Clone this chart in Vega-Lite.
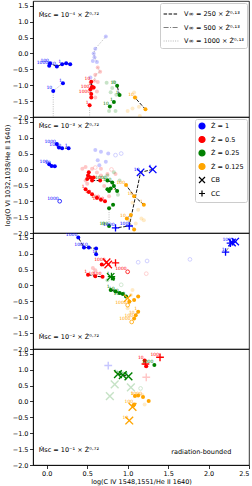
{
"$schema":"https://vega.github.io/schema/vega-lite/v6.json",
"padding":{"left":3,"right":3,"top":0,"bottom":0},
"background":"white",
"datasets":{
"pts":[
{"p":1,"z":"1","g":"1a","v":250,"d":1000,"n":"1000","x":0.03,"y":-0.39},
{"p":1,"z":"1","g":"1a","v":250,"d":100,"n":"100","x":0.04,"y":-0.31},
{"p":1,"z":"1","g":"1a","v":250,"d":10,"n":"10","x":0.125,"y":-0.41},
{"p":1,"z":"1","g":"1a","v":250,"d":1,"n":"1","x":0.19,"y":-0.34},
{"p":1,"z":"1","g":"1a","v":250,"d":0.5,"x":0.24,"y":-0.31},
{"p":1,"z":"1","g":"1a","v":250,"d":0.2,"x":0.29,"y":-0.34},
{"p":1,"z":"1","g":"1b","v":1000,"d":1,"n":"1","x":0.2,"y":-0.94},
{"p":1,"z":"1","g":"1b","v":1000,"d":10,"n":"10","x":0.08,"y":-1.18},
{"p":1,"z":"1","g":"1b","v":1000,"d":100,"m":"-","x":0.08,"y":-2.6},
{"p":1,"z":"1","g":"1c","v":1000,"d":1,"f":1,"x":0.73,"y":0.53},
{"p":1,"z":"1","g":"1c","v":1000,"d":2,"f":1,"x":0.6,"y":0.15},
{"p":1,"z":"1","g":"1c","v":1000,"d":3,"f":1,"x":0.58,"y":0.0},
{"p":1,"z":"1","g":"1c","v":1000,"d":4,"f":1,"x":0.59,"y":-0.12},
{"p":1,"z":"1","g":"1c","v":1000,"d":5,"f":1,"x":0.62,"y":-0.27},
{"p":1,"z":"1","f":1,"x":0.57,"y":-0.24},
{"p":1,"z":"1","f":1,"x":0.54,"y":-0.76},
{"p":1,"z":"0.5","g":"1d","v":250,"d":1,"n":"1","x":0.56,"y":-1.05},
{"p":1,"z":"0.5","g":"1d","v":250,"d":10,"n":"10","x":0.55,"y":-0.89},
{"p":1,"z":"0.5","g":"1d","v":250,"d":100,"n":"100","x":0.54,"y":-1.13},
{"p":1,"z":"0.5","g":"1d","v":250,"d":1000,"n":"1000","x":0.55,"y":-1.28},
{"p":1,"z":"0.5","x":0.58,"y":-1.07},
{"p":1,"z":"0.5","x":0.55,"y":-1.39},
{"p":1,"z":"0.5","g":"1e","v":1000,"d":1,"n":"1","x":0.53,"y":-1.63},
{"p":1,"z":"0.5","g":"1e","v":1000,"d":10,"m":"-","x":0.53,"y":-2.6},
{"p":1,"z":"0.5","g":"1f","v":1000,"d":1,"f":1,"x":0.63,"y":-0.44},
{"p":1,"z":"0.5","g":"1f","v":1000,"d":2,"f":1,"x":0.66,"y":-0.58},
{"p":1,"z":"0.5","g":"1f","v":1000,"d":3,"f":1,"x":0.6,"y":-0.67},
{"p":1,"z":"0.5","g":"1f","v":1000,"d":4,"f":1,"x":0.59,"y":-0.86},
{"p":1,"z":"0.5","f":1,"x":0.63,"y":-0.9},
{"p":1,"z":"0.5","f":1,"x":0.57,"y":-1.1},
{"p":1,"z":"0.5","f":1,"x":0.6,"y":-1.39},
{"p":1,"z":"0.5","f":1,"x":0.62,"y":-1.2},
{"p":1,"z":"0.25","f":1,"x":0.74,"y":-0.92},
{"p":1,"z":"0.25","f":1,"x":0.83,"y":-0.9},
{"p":1,"z":"0.25","f":1,"x":0.81,"y":-1.09},
{"p":1,"z":"0.25","f":1,"x":0.79,"y":-1.22},
{"p":1,"z":"0.25","f":1,"x":0.86,"y":-1.3},
{"p":1,"z":"0.25","f":1,"x":0.77,"y":-1.81},
{"p":1,"z":"0.25","f":1,"x":0.85,"y":-1.81},
{"p":1,"z":"0.25","g":"1g","v":250,"d":10,"n":"10","x":0.87,"y":-1.02},
{"p":1,"z":"0.25","g":"1g","v":250,"d":1,"n":"1","x":0.9,"y":-1.31},
{"p":1,"z":"0.25","g":"1h","v":1000,"d":1,"n":"1","x":0.83,"y":-1.53},
{"p":1,"z":"0.25","g":"1h","v":1000,"d":10,"n":"10","x":0.78,"y":-1.67},
{"p":1,"z":"0.125","f":1,"x":1.08,"y":-1.23},
{"p":1,"z":"0.125","f":1,"x":1.1,"y":-1.39},
{"p":1,"z":"0.125","f":1,"x":1.14,"y":-1.68},
{"p":1,"z":"0.125","f":1,"x":1.0,"y":-1.81},
{"p":1,"z":"0.125","f":1,"x":1.06,"y":-1.73},
{"p":1,"z":"0.125","f":1,"x":1.15,"y":-1.97},
{"p":1,"z":"0.125","g":"1i","v":250,"d":10,"n":"10","x":1.09,"y":-1.39},
{"p":1,"z":"0.125","g":"1i","v":250,"d":1,"x":1.22,"y":-1.76},

{"p":2,"z":"1","g":"2a","v":250,"d":1000,"n":"1000","x":0.125,"y":0.8},
{"p":2,"z":"1","g":"2a","v":250,"d":100,"n":"100","x":0.15,"y":0.69},
{"p":2,"z":"1","g":"2a","v":250,"d":10,"n":"10","x":0.19,"y":0.67},
{"p":2,"z":"1","g":"2a","v":250,"d":1,"n":"1","x":0.27,"y":0.67},
{"p":2,"z":"1","g":"2b","v":250,"d":100,"n":"100","x":0.03,"y":0.16},
{"p":2,"z":"1","g":"2b","v":250,"d":10,"n":"10","x":0.06,"y":0.11},
{"p":2,"z":"1","g":"2b","v":250,"d":1,"x":0.1,"y":0.1},
{"p":2,"z":"1","t":1,"n":"1000","x":0.16,"y":-1.0},
{"p":2,"z":"1","f":1,"x":0.6,"y":0.61},
{"p":2,"z":"1","f":1,"x":0.67,"y":0.56},
{"p":2,"z":"1","f":1,"x":0.76,"y":0.5},
{"p":2,"z":"1","f":1,"x":0.65,"y":0.13},
{"p":2,"z":"1","f":1,"x":0.73,"y":0.24},
{"p":2,"z":"1","f":1,"x":0.63,"y":0.29},
{"p":2,"z":"1","f":1,"t":1,"x":0.85,"y":0.45},
{"p":2,"z":"1","f":1,"t":1,"x":0.92,"y":0.5},
{"p":2,"z":"1","g":"2c","v":250,"d":1,"n":"1","m":"CB","x":1.31,"y":0.0},
{"p":2,"z":"1","g":"2c","v":250,"d":10,"n":"10","m":"CB","x":1.16,"y":-0.09},
{"p":2,"z":"1","g":"2c","v":250,"d":100,"n":"100","m":"CC","x":1.02,"y":-1.78},
{"p":2,"z":"1","g":"2c","v":250,"d":1000,"n":"1000","m":"CC","x":0.85,"y":-1.84},
{"p":2,"z":"0.5","g":"2d","v":250,"d":1,"x":0.66,"y":-0.35},
{"p":2,"z":"0.5","g":"2d","v":250,"d":10,"x":0.56,"y":-0.35},
{"p":2,"z":"0.5","g":"2d","v":250,"d":100,"x":0.54,"y":-0.25},
{"p":2,"z":"0.5","g":"2d","v":250,"d":1000,"x":0.52,"y":-0.09},
{"p":2,"z":"0.5","x":0.51,"y":-0.19},
{"p":2,"z":"0.5","x":0.58,"y":-0.25},
{"p":2,"z":"0.5","x":0.5,"y":-0.3},
{"p":2,"z":"0.5","g":"2e","v":1000,"d":1,"n":"1","x":0.48,"y":-0.62},
{"p":2,"z":"0.5","g":"2e","v":1000,"d":3,"x":0.52,"y":-0.71},
{"p":2,"z":"0.5","g":"2e","v":1000,"d":10,"n":"10","x":0.56,"y":-0.78},
{"p":2,"z":"0.5","g":"2e","v":1000,"d":30,"x":0.62,"y":-0.89},
{"p":2,"z":"0.5","g":"2e","v":1000,"d":100,"n":"100","x":0.67,"y":-0.95},
{"p":2,"z":"0.5","g":"2e","v":1000,"d":1000,"n":"1000","x":0.72,"y":-1.0},
{"p":2,"z":"0.5","f":1,"x":0.44,"y":0.02},
{"p":2,"z":"0.5","f":1,"x":0.48,"y":0.08},
{"p":2,"z":"0.5","f":1,"x":0.56,"y":0.02},
{"p":2,"z":"0.5","f":1,"x":0.67,"y":0.02},
{"p":2,"z":"0.5","f":1,"x":0.75,"y":-0.14},
{"p":2,"z":"0.5","f":1,"x":0.85,"y":-0.14},
{"p":2,"z":"0.5","f":1,"x":0.48,"y":-0.35},
{"p":2,"z":"0.5","f":1,"x":0.67,"y":-0.19},
{"p":2,"z":"0.5","f":1,"x":0.71,"y":-0.52},
{"p":2,"z":"0.5","f":1,"x":0.77,"y":-0.84},
{"p":2,"z":"0.5","f":1,"x":0.5,"y":-0.45},
{"p":2,"z":"0.5","f":1,"x":0.62,"y":-0.1},
{"p":2,"z":"0.5","f":1,"t":1,"x":0.6,"y":0.06},
{"p":2,"z":"0.5","f":1,"t":1,"x":0.8,"y":0.0},
{"p":2,"z":"0.25","g":"2f","v":250,"d":1000,"n":"1000","x":0.75,"y":-0.35},
{"p":2,"z":"0.25","g":"2f","v":250,"d":100,"n":"100","x":0.81,"y":-0.41},
{"p":2,"z":"0.25","g":"2f","v":250,"d":10,"x":0.83,"y":-0.52},
{"p":2,"z":"0.25","g":"2f","v":250,"d":1,"n":"1","x":0.87,"y":-0.68},
{"p":2,"z":"0.25","x":0.75,"y":-0.62},
{"p":2,"z":"0.25","x":0.77,"y":-0.68},
{"p":2,"z":"0.25","x":0.79,"y":-0.6},
{"p":2,"z":"0.25","g":"2g","v":1000,"d":1,"x":0.82,"y":-1.11},
{"p":2,"z":"0.25","g":"2g","v":1000,"d":10,"x":0.77,"y":-1.22},
{"p":2,"z":"0.25","g":"2g","v":1000,"d":100,"n":"100","x":0.77,"y":-1.78},
{"p":2,"z":"0.25","f":1,"x":0.75,"y":-0.19},
{"p":2,"z":"0.25","f":1,"x":0.9,"y":-0.35},
{"p":2,"z":"0.25","f":1,"x":0.83,"y":-0.09},
{"p":2,"z":"0.25","f":1,"x":0.88,"y":-0.8},
{"p":2,"z":"0.25","f":1,"x":0.7,"y":-1.7},
{"p":2,"z":"0.125","g":"2h","v":250,"d":100,"n":"100","x":0.98,"y":-0.49},
{"p":2,"z":"0.125","g":"2h","v":250,"d":10,"n":"10","x":1.08,"y":-0.84},
{"p":2,"z":"0.125","g":"2h","v":250,"d":1,"n":"1","x":1.2,"y":-1.11},
{"p":2,"z":"0.125","g":"2i","v":500,"d":1,"x":1.04,"y":-1.43},
{"p":2,"z":"0.125","g":"2i","v":500,"d":10,"n":"10","x":0.99,"y":-1.54},
{"p":2,"z":"0.125","g":"2i","v":500,"d":100,"x":1.08,"y":-1.89},
{"p":2,"z":"0.125","f":1,"x":1.17,"y":-1.54},
{"p":2,"z":"0.125","f":1,"x":1.02,"y":-1.59},
{"p":2,"z":"0.125","f":1,"x":1.13,"y":-1.27},
{"p":2,"z":"0.125","f":1,"x":1.06,"y":-1.05},
{"p":2,"z":"0.125","f":1,"x":1.2,"y":-1.6},
{"p":2,"z":"0.125","f":1,"x":1.1,"y":-1.7},

{"p":3,"z":"1","g":"3a","v":250,"d":1000,"n":"1000","x":0.39,"y":1.51},
{"p":3,"z":"1","g":"3a","v":250,"d":100,"n":"100","x":0.46,"y":1.19},
{"p":3,"z":"1","g":"3a","v":250,"d":10,"n":"10","x":0.52,"y":1.19},
{"p":3,"z":"1","g":"3a","v":250,"d":3,"x":0.61,"y":1.16},
{"p":3,"z":"1","g":"3a","v":250,"d":1,"n":"1","x":0.61,"y":0.98},
{"p":3,"z":"1","g":"3b","v":500,"d":1,"n":"1","m":"CC","x":2.21,"y":1.05},
{"p":3,"z":"1","g":"3b","v":500,"d":100,"n":"100","m":"CB","x":2.29,"y":1.35},
{"p":3,"z":"1","m":"CC","x":2.3,"y":1.37},
{"p":3,"z":"1","m":"CB","x":2.33,"y":1.38},
{"p":3,"z":"1","m":"CC","x":2.27,"y":1.33},
{"p":3,"z":"1","f":1,"t":1,"x":1.13,"y":0.73},
{"p":3,"z":"1","f":1,"t":1,"x":1.24,"y":0.77},
{"p":3,"z":"1","f":1,"t":1,"x":1.77,"y":0.82},
{"p":3,"z":"0.5","g":"3c","v":250,"d":1,"n":"1","x":0.51,"y":0.34},
{"p":3,"z":"0.5","g":"3c","v":250,"d":10,"n":"10","x":0.6,"y":0.29},
{"p":3,"z":"0.5","g":"3c","v":250,"d":100,"n":"100","x":0.69,"y":0.27},
{"p":3,"z":"0.5","m":"CB","n":"1000","x":0.74,"y":0.73},
{"p":3,"z":"0.5","x":0.68,"y":0.66},
{"p":3,"z":"0.5","m":"CB","x":0.76,"y":0.66},
{"p":3,"z":"0.5","m":"CC","x":0.85,"y":0.71},
{"p":3,"z":"0.5","t":1,"n":"1000","x":1.0,"y":0.43},
{"p":3,"z":"0.5","f":1,"x":0.6,"y":0.48},
{"p":3,"z":"0.5","f":1,"x":0.57,"y":0.55},
{"p":3,"z":"0.5","f":1,"t":1,"x":1.23,"y":0.37},
{"p":3,"z":"0.25","m":"CB","n":"1","x":0.79,"y":0.27},
{"p":3,"z":"0.25","m":"CC","x":0.8,"y":0.28},
{"p":3,"z":"0.25","x":0.82,"y":0.22},
{"p":3,"z":"0.25","g":"3d","v":250,"d":1,"n":"1","x":0.79,"y":-0.14},
{"p":3,"z":"0.25","g":"3d","v":250,"d":10,"n":"10","x":0.85,"y":-0.19},
{"p":3,"z":"0.25","g":"3d","v":250,"d":100,"n":"100","x":0.9,"y":-0.24},
{"p":3,"z":"0.25","g":"3d","v":250,"d":300,"x":0.94,"y":-0.27},
{"p":3,"z":"0.25","g":"3d","v":250,"d":1000,"n":"1000","x":0.98,"y":-0.35},
{"p":3,"z":"0.25","f":1,"t":1,"x":0.92,"y":0.02},
{"p":3,"z":"0.25","f":1,"x":0.75,"y":0.16},
{"p":3,"z":"0.125","m":"CB","x":1.0,"y":-0.4},
{"p":3,"z":"0.125","x":1.02,"y":-0.51},
{"p":3,"z":"0.125","x":1.13,"y":-0.35},
{"p":3,"z":"0.125","x":1.08,"y":-0.46},
{"p":3,"z":"0.125","t":1,"n":"1000","x":1.0,"y":-0.62},
{"p":3,"z":"0.125","g":"3e","v":500,"d":1,"n":"1","x":1.13,"y":-0.83},
{"p":3,"z":"0.125","g":"3e","v":500,"d":10,"n":"10","x":1.1,"y":-0.94},
{"p":3,"z":"0.125","g":"3e","v":500,"d":100,"n":"100","x":1.08,"y":-1.04},
{"p":3,"z":"0.125","t":1,"n":"1000","x":1.05,"y":-1.15},
{"p":3,"z":"0.125","f":1,"x":1.0,"y":-0.72},
{"p":3,"z":"0.125","f":1,"x":1.06,"y":-0.14},
{"p":3,"z":"0.125","f":1,"x":1.04,"y":-0.3},

{"p":4,"z":"0.5","m":"CC","n":"100","x":1.4,"y":1.39},
{"p":4,"z":"0.5","m":"CC","x":1.22,"y":1.18},
{"p":4,"z":"0.5","n":"10","x":1.21,"y":1.29},
{"p":4,"z":"0.5","n":"1","x":1.23,"y":1.11},
{"p":4,"z":"0.5","f":1,"m":"CC","x":1.23,"y":0.76},
{"p":4,"z":"0.25","g":"4a","v":250,"d":1,"n":"1","m":"CB","x":0.88,"y":0.86},
{"p":4,"z":"0.25","g":"4a","v":250,"d":10,"n":"10","m":"CB","x":0.94,"y":0.83},
{"p":4,"z":"0.25","g":"4a","v":250,"d":100,"n":"100","m":"CB","x":1.01,"y":0.79},
{"p":4,"z":"0.25","n":"1000","x":1.33,"y":1.15},
{"p":4,"z":"0.25","f":1,"m":"CB","x":0.84,"y":0.54},
{"p":4,"z":"0.25","f":1,"m":"CB","x":0.78,"y":0.17},
{"p":4,"z":"0.25","f":1,"m":"CB","x":1.04,"y":0.44},
{"p":4,"z":"0.25","f":1,"t":1,"x":1.16,"y":0.41},
{"p":4,"z":"1","f":1,"m":"CC","x":0.76,"y":1.13},
{"p":4,"z":"0.125","n":"1","x":1.09,"y":0.17},
{"p":4,"z":"0.125","x":1.13,"y":0.19},
{"p":4,"z":"0.125","n":"1000","x":1.19,"y":0.14},
{"p":4,"z":"0.125","x":1.26,"y":0.01},
{"p":4,"z":"0.125","n":"100","x":1.08,"y":-0.1},
{"p":4,"z":"0.125","m":"CB","x":1.06,"y":-0.17},
{"p":4,"z":"0.125","m":"CB","n":"10","x":1.02,"y":-0.6},
{"p":4,"z":"0.125","x":1.07,"y":-0.13},
{"p":4,"z":"0.125","f":1,"x":1.21,"y":-0.1},
{"p":4,"z":"0.125","f":1,"x":1.18,"y":0.2}
],
"notes":[
{"p":1,"x":-0.1,"y":1.2,"s":"Ṁsc = 10⁻⁴ × Ż⁰·⁷²"},
{"p":2,"x":-0.1,"y":1.38,"s":"Ṁsc = 10⁻³ × Ż⁰·⁷²"},
{"p":3,"x":-0.1,"y":-1.62,"s":"Ṁsc = 10⁻² × Ż⁰·⁷²"},
{"p":4,"x":-0.1,"y":-1.53,"s":"Ṁsc = 10⁻¹ × Ż⁰·⁷²"},
{"p":4,"x":1.54,"y":-1.6,"s":"radiation-bounded"}
]
},
"vconcat":[
{
"width":216,"height":116,
"encoding":{
"x":{"field":"x","type":"quantitative","scale":{"domain":[-0.17,2.5],"nice":false,"zero":false},"axis":null},
"y":{"field":"y","type":"quantitative","scale":{"domain":[-2,1.65],"nice":false,"zero":false},"axis":{"values":[-2,-1.5,-1,-0.5,0,0.5,1,1.5],"format":".1f","title":null}}
},
"layer":[
{"data":{"name":"pts"},"transform":[{"filter":"datum.p==1 && datum.g"}],
"mark":{"type":"line","strokeWidth":0.9,"clip":true},
"encoding":{"detail":{"field":"g"},"order":{"field":"d","type":"quantitative"},
"stroke":{"field":"v","type":"nominal","scale":{"domain":[250,500,1000],"range":["#000000","#7f7f7f","#b5b5b5"]},"legend":{"orient":"top-right","title":null,"labelExpr":"'V∞ = '+datum.label+' × Ż⁰·¹³'","symbolSize":220,"symbolStrokeWidth":1.1}},
"strokeDash":{"field":"v","type":"nominal","scale":{"domain":[250,500,1000],"range":[[3.5,1.5],[5,1.5,1,1.5],[1,1.3]]},"legend":{"orient":"top-right","title":null,"labelExpr":"'V∞ = '+datum.label+' × Ż⁰·¹³'","symbolSize":220,"symbolStrokeWidth":1.1}}}},
{"data":{"name":"pts"},"transform":[{"filter":"datum.p==1 && !datum.m && !datum.t"}],
"mark":{"type":"point","filled":true,"size":16,"clip":true},
"encoding":{"color":{"field":"z","type":"nominal","scale":{"domain":["1","0.5","0.25","0.125","CB","CC"],"range":["#0000ff","#ff0000","#008000","#ffa500","#000000","#000000"]},"legend":null},
"opacity":{"condition":{"test":"datum.f==1","value":0.22},"value":1}}},
{"data":{"name":"pts"},"transform":[{"filter":"datum.p==1 && !datum.m && datum.t"}],
"mark":{"type":"point","filled":false,"size":14,"strokeWidth":0.8,"clip":true},
"encoding":{"color":{"field":"z","type":"nominal","scale":{"domain":["1","0.5","0.25","0.125","CB","CC"],"range":["#0000ff","#ff0000","#008000","#ffa500","#000000","#000000"]},"legend":null},
"opacity":{"condition":{"test":"datum.f==1","value":0.22},"value":1}}},
{"data":{"name":"pts"},"transform":[{"filter":"datum.p==1 && (datum.m=='CB' || datum.m=='CC')"}],
"mark":{"type":"point","filled":false,"size":55,"strokeWidth":1.3,"clip":true},
"encoding":{"color":{"field":"z","type":"nominal","scale":{"domain":["1","0.5","0.25","0.125","CB","CC"],"range":["#0000ff","#ff0000","#008000","#ffa500","#000000","#000000"]},"legend":null},
"shape":{"field":"m","type":"nominal","scale":{"domain":["1","0.5","0.25","0.125","CB","CC"],"range":["circle","circle","circle","circle","M-1,-1L1,1M-1,1L1,-1","M-1,0L1,0M0,-1L0,1"]},"legend":null},
"opacity":{"condition":{"test":"datum.f==1","value":0.22},"value":1}}},
{"data":{"name":"pts"},"transform":[{"filter":"datum.p==1 && datum.n"}],
"mark":{"type":"text","fontSize":4.5,"align":"right","baseline":"bottom","dx":-1,"dy":-0.5,"clip":true},
"encoding":{"text":{"field":"n"},"color":{"field":"z","type":"nominal","scale":{"domain":["1","0.5","0.25","0.125","CB","CC"],"range":["#0000ff","#ff0000","#008000","#ffa500","#000000","#000000"]},"legend":null},
"opacity":{"condition":{"test":"datum.f==1","value":0.22},"value":1}}},
{"data":{"name":"notes"},"transform":[{"filter":"datum.p==1"}],
"mark":{"type":"text","fontSize":6.5,"align":"left","baseline":"middle","color":"#000000"},
"encoding":{"text":{"field":"s"}}}
]
},
{
"width":216,"height":116,
"encoding":{
"x":{"field":"x","type":"quantitative","scale":{"domain":[-0.17,2.5],"nice":false,"zero":false},"axis":null},
"y":{"field":"y","type":"quantitative","scale":{"domain":[-2,1.65],"nice":false,"zero":false},"axis":{"values":[-2,-1.5,-1,-0.5,0,0.5,1,1.5],"format":".1f","title":"log(O VI 1032,1038/He II 1640)"}}
},
"layer":[
{"data":{"name":"pts"},"transform":[{"filter":"datum.p==2 && datum.g"}],
"mark":{"type":"line","strokeWidth":0.9,"clip":true},
"encoding":{"detail":{"field":"g"},"order":{"field":"d","type":"quantitative"},
"stroke":{"field":"v","type":"nominal","scale":{"domain":[250,500,1000],"range":["#000000","#7f7f7f","#b5b5b5"]},"legend":null},
"strokeDash":{"field":"v","type":"nominal","scale":{"domain":[250,500,1000],"range":[[3.5,1.5],[5,1.5,1,1.5],[1,1.3]]},"legend":null}}},
{"data":{"name":"pts"},"transform":[{"filter":"datum.p==2 && !datum.m && !datum.t"}],
"mark":{"type":"point","filled":true,"size":16,"clip":true},
"encoding":{"color":{"field":"z","type":"nominal","scale":{"domain":["1","0.5","0.25","0.125","CB","CC"],"range":["#0000ff","#ff0000","#008000","#ffa500","#000000","#000000"]},"legend":{"orient":"top-right","title":null,"labelExpr":"(datum.label=='CB'||datum.label=='CC') ? datum.label : 'Ż = '+datum.label","symbolSize":36}},
"opacity":{"condition":{"test":"datum.f==1","value":0.22},"value":1}}},
{"data":{"name":"pts"},"transform":[{"filter":"datum.p==2 && !datum.m && datum.t"}],
"mark":{"type":"point","filled":false,"size":14,"strokeWidth":0.8,"clip":true},
"encoding":{"color":{"field":"z","type":"nominal","scale":{"domain":["1","0.5","0.25","0.125","CB","CC"],"range":["#0000ff","#ff0000","#008000","#ffa500","#000000","#000000"]},"legend":null},
"opacity":{"condition":{"test":"datum.f==1","value":0.22},"value":1}}},
{"data":{"name":"pts"},"transform":[{"filter":"datum.p==2 && (datum.m=='CB' || datum.m=='CC')"}],
"mark":{"type":"point","filled":false,"size":55,"strokeWidth":1.3,"clip":true},
"encoding":{"color":{"field":"z","type":"nominal","scale":{"domain":["1","0.5","0.25","0.125","CB","CC"],"range":["#0000ff","#ff0000","#008000","#ffa500","#000000","#000000"]},"legend":{"orient":"top-right","title":null,"labelExpr":"(datum.label=='CB'||datum.label=='CC') ? datum.label : 'Ż = '+datum.label","symbolSize":36}},
"shape":{"field":"m","type":"nominal","scale":{"domain":["1","0.5","0.25","0.125","CB","CC"],"range":["circle","circle","circle","circle","M-1,-1L1,1M-1,1L1,-1","M-1,0L1,0M0,-1L0,1"]},"legend":{"orient":"top-right","title":null,"labelExpr":"(datum.label=='CB'||datum.label=='CC') ? datum.label : 'Ż = '+datum.label","symbolSize":36}},
"opacity":{"condition":{"test":"datum.f==1","value":0.22},"value":1}}},
{"data":{"name":"pts"},"transform":[{"filter":"datum.p==2 && datum.n"}],
"mark":{"type":"text","fontSize":4.5,"align":"right","baseline":"bottom","dx":-1,"dy":-0.5,"clip":true},
"encoding":{"text":{"field":"n"},"color":{"field":"z","type":"nominal","scale":{"domain":["1","0.5","0.25","0.125","CB","CC"],"range":["#0000ff","#ff0000","#008000","#ffa500","#000000","#000000"]},"legend":null},
"opacity":{"condition":{"test":"datum.f==1","value":0.22},"value":1}}},
{"data":{"name":"notes"},"transform":[{"filter":"datum.p==2"}],
"mark":{"type":"text","fontSize":6.5,"align":"left","baseline":"middle","color":"#000000"},
"encoding":{"text":{"field":"s"}}}
]
},
{
"width":216,"height":116,
"encoding":{
"x":{"field":"x","type":"quantitative","scale":{"domain":[-0.17,2.5],"nice":false,"zero":false},"axis":null},
"y":{"field":"y","type":"quantitative","scale":{"domain":[-2,1.65],"nice":false,"zero":false},"axis":{"values":[-2,-1.5,-1,-0.5,0,0.5,1,1.5],"format":".1f","title":null}}
},
"layer":[
{"data":{"name":"pts"},"transform":[{"filter":"datum.p==3 && datum.g"}],
"mark":{"type":"line","strokeWidth":0.9,"clip":true},
"encoding":{"detail":{"field":"g"},"order":{"field":"d","type":"quantitative"},
"stroke":{"field":"v","type":"nominal","scale":{"domain":[250,500,1000],"range":["#000000","#7f7f7f","#b5b5b5"]},"legend":null},
"strokeDash":{"field":"v","type":"nominal","scale":{"domain":[250,500,1000],"range":[[3.5,1.5],[5,1.5,1,1.5],[1,1.3]]},"legend":null}}},
{"data":{"name":"pts"},"transform":[{"filter":"datum.p==3 && !datum.m && !datum.t"}],
"mark":{"type":"point","filled":true,"size":16,"clip":true},
"encoding":{"color":{"field":"z","type":"nominal","scale":{"domain":["1","0.5","0.25","0.125","CB","CC"],"range":["#0000ff","#ff0000","#008000","#ffa500","#000000","#000000"]},"legend":null},
"fillOpacity":{"datum":"thin","type":"nominal","scale":{"domain":["thin","thick"],"range":[1,0]},"legend":{"orient":"bottom-right","title":null,"labelExpr":"'optically '+datum.label","symbolFillColor":"#000000","symbolStrokeColor":"#000000","symbolSize":18,"symbolStrokeWidth":0.9}},
"opacity":{"condition":{"test":"datum.f==1","value":0.22},"value":1}}},
{"data":{"name":"pts"},"transform":[{"filter":"datum.p==3 && !datum.m && datum.t"}],
"mark":{"type":"point","filled":false,"size":14,"strokeWidth":0.8,"clip":true},
"encoding":{"color":{"field":"z","type":"nominal","scale":{"domain":["1","0.5","0.25","0.125","CB","CC"],"range":["#0000ff","#ff0000","#008000","#ffa500","#000000","#000000"]},"legend":null},
"opacity":{"condition":{"test":"datum.f==1","value":0.22},"value":1}}},
{"data":{"name":"pts"},"transform":[{"filter":"datum.p==3 && (datum.m=='CB' || datum.m=='CC')"}],
"mark":{"type":"point","filled":false,"size":55,"strokeWidth":1.3,"clip":true},
"encoding":{"color":{"field":"z","type":"nominal","scale":{"domain":["1","0.5","0.25","0.125","CB","CC"],"range":["#0000ff","#ff0000","#008000","#ffa500","#000000","#000000"]},"legend":null},
"shape":{"field":"m","type":"nominal","scale":{"domain":["1","0.5","0.25","0.125","CB","CC"],"range":["circle","circle","circle","circle","M-1,-1L1,1M-1,1L1,-1","M-1,0L1,0M0,-1L0,1"]},"legend":null},
"opacity":{"condition":{"test":"datum.f==1","value":0.22},"value":1}}},
{"data":{"name":"pts"},"transform":[{"filter":"datum.p==3 && datum.n"}],
"mark":{"type":"text","fontSize":4.5,"align":"right","baseline":"bottom","dx":-1,"dy":-0.5,"clip":true},
"encoding":{"text":{"field":"n"},"color":{"field":"z","type":"nominal","scale":{"domain":["1","0.5","0.25","0.125","CB","CC"],"range":["#0000ff","#ff0000","#008000","#ffa500","#000000","#000000"]},"legend":null},
"opacity":{"condition":{"test":"datum.f==1","value":0.22},"value":1}}},
{"data":{"name":"notes"},"transform":[{"filter":"datum.p==3"}],
"mark":{"type":"text","fontSize":6.5,"align":"left","baseline":"middle","color":"#000000"},
"encoding":{"text":{"field":"s"}}}
]
},
{
"width":216,"height":116,
"encoding":{
"x":{"field":"x","type":"quantitative","scale":{"domain":[-0.17,2.5],"nice":false,"zero":false},"axis":{"values":[0,0.5,1,1.5,2,2.5],"format":".1f","title":"log(C IV 1548,1551/He II 1640)"}},
"y":{"field":"y","type":"quantitative","scale":{"domain":[-2,1.65],"nice":false,"zero":false},"axis":{"values":[-2,-1.5,-1,-0.5,0,0.5,1,1.5],"format":".1f","title":null}}
},
"layer":[
{"data":{"name":"pts"},"transform":[{"filter":"datum.p==4 && datum.g"}],
"mark":{"type":"line","strokeWidth":0.9,"clip":true},
"encoding":{"detail":{"field":"g"},"order":{"field":"d","type":"quantitative"},
"stroke":{"field":"v","type":"nominal","scale":{"domain":[250,500,1000],"range":["#000000","#7f7f7f","#b5b5b5"]},"legend":null},
"strokeDash":{"field":"v","type":"nominal","scale":{"domain":[250,500,1000],"range":[[3.5,1.5],[5,1.5,1,1.5],[1,1.3]]},"legend":null}}},
{"data":{"name":"pts"},"transform":[{"filter":"datum.p==4 && !datum.m && !datum.t"}],
"mark":{"type":"point","filled":true,"size":16,"clip":true},
"encoding":{"color":{"field":"z","type":"nominal","scale":{"domain":["1","0.5","0.25","0.125","CB","CC"],"range":["#0000ff","#ff0000","#008000","#ffa500","#000000","#000000"]},"legend":null},
"opacity":{"condition":{"test":"datum.f==1","value":0.22},"value":1}}},
{"data":{"name":"pts"},"transform":[{"filter":"datum.p==4 && !datum.m && datum.t"}],
"mark":{"type":"point","filled":false,"size":14,"strokeWidth":0.8,"clip":true},
"encoding":{"color":{"field":"z","type":"nominal","scale":{"domain":["1","0.5","0.25","0.125","CB","CC"],"range":["#0000ff","#ff0000","#008000","#ffa500","#000000","#000000"]},"legend":null},
"opacity":{"condition":{"test":"datum.f==1","value":0.22},"value":1}}},
{"data":{"name":"pts"},"transform":[{"filter":"datum.p==4 && (datum.m=='CB' || datum.m=='CC')"}],
"mark":{"type":"point","filled":false,"size":60,"strokeWidth":1.4,"clip":true},
"encoding":{"color":{"field":"z","type":"nominal","scale":{"domain":["1","0.5","0.25","0.125","CB","CC"],"range":["#0000ff","#ff0000","#008000","#ffa500","#000000","#000000"]},"legend":null},
"shape":{"field":"m","type":"nominal","scale":{"domain":["1","0.5","0.25","0.125","CB","CC"],"range":["circle","circle","circle","circle","M-1,-1L1,1M-1,1L1,-1","M-1,0L1,0M0,-1L0,1"]},"legend":null},
"opacity":{"condition":{"test":"datum.f==1","value":0.22},"value":1}}},
{"data":{"name":"pts"},"transform":[{"filter":"datum.p==4 && datum.n"}],
"mark":{"type":"text","fontSize":4.5,"align":"right","baseline":"bottom","dx":-1,"dy":-0.5,"clip":true},
"encoding":{"text":{"field":"n"},"color":{"field":"z","type":"nominal","scale":{"domain":["1","0.5","0.25","0.125","CB","CC"],"range":["#0000ff","#ff0000","#008000","#ffa500","#000000","#000000"]},"legend":null},
"opacity":{"condition":{"test":"datum.f==1","value":0.22},"value":1}}},
{"data":{"name":"notes"},"transform":[{"filter":"datum.p==4"}],
"mark":{"type":"text","fontSize":6.5,"align":"left","baseline":"middle","color":"#000000"},
"encoding":{"text":{"field":"s"}}}
]
}
],
"spacing":0,
"bounds":"flush",
"resolve":{"scale":{"color":"independent","shape":"independent","stroke":"independent","strokeDash":"independent","fillOpacity":"independent","x":"independent","y":"independent"},
"legend":{"color":"independent","shape":"independent","stroke":"independent","strokeDash":"independent","fillOpacity":"independent"}},
"config":{
"font":"DejaVu Sans",
"view":{"stroke":"#000000","strokeWidth":0.8},
"axis":{"labelFont":"DejaVu Sans","titleFont":"DejaVu Sans","labelFontSize":6.5,"titleFontSize":6.5,"titleFontWeight":"normal","tickSize":3.5,"tickColor":"#000000","domainColor":"#000000","labelColor":"#000000","titleColor":"#000000","grid":false,"labelPadding":1.5,"titlePadding":2,"domainWidth":0.8,"tickWidth":0.8},
"legend":{"fillColor":"#ffffff","strokeColor":"#cccccc","padding":3,"cornerRadius":2,"offset":2,"labelFont":"DejaVu Sans","labelFontSize":6.5,"labelColor":"#000000","rowPadding":1.5,"symbolStrokeWidth":1.2,"labelOffset":5},
"text":{"font":"DejaVu Sans"}
}
}
